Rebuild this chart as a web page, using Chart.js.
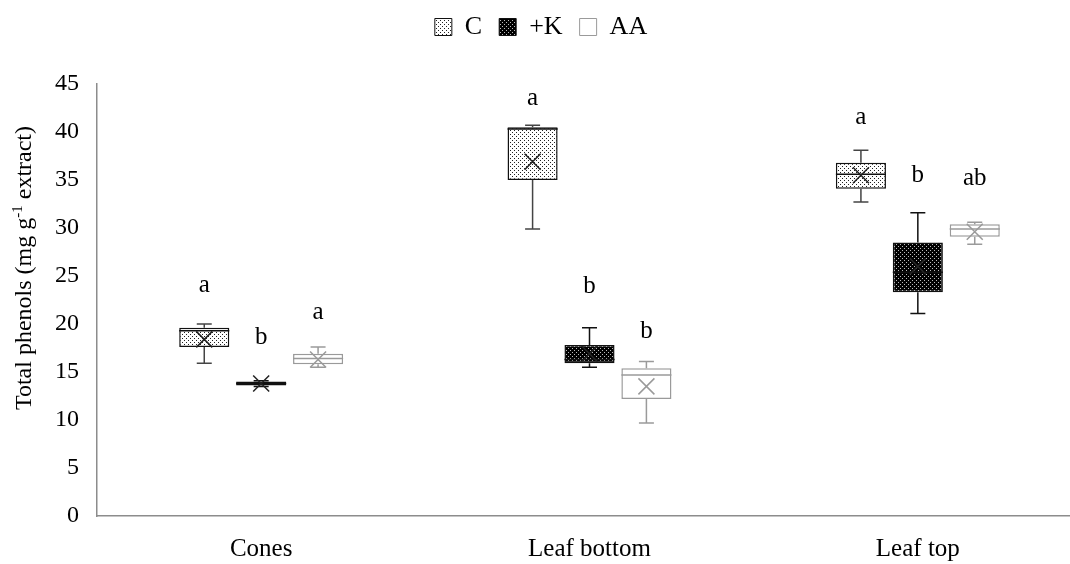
<!DOCTYPE html>
<html>
<head>
<meta charset="utf-8">
<script src="https://cdn.jsdelivr.net/npm/chart.js@4"></script>
<style>
  html, body { margin: 0; padding: 0; background: #fff; overflow: hidden; }
  #wrap { width: 1082px; height: 564px; }
</style>
</head>
<body>
<div id="wrap"><canvas id="chart"></canvas></div>
<script>
// categories and series
const categories = ["Cones", "Leaf bottom", "Leaf top"];
const seriesNames = ["C", "+K", "AA"];

// C (control)
const cMin  = [15.9, 29.9, 32.7];
const cQ1   = [17.6, 35.0, 34.1];
const cMed  = [19.3, 40.3, 35.6];
const cQ3   = [19.6, 40.5, 36.8];
const cMax  = [20.0, 40.7, 38.1];
const cMean = [18.4, 36.9, 35.5];

// +K
const kMin  = [13.5, 15.5, 21.1];
const kQ1   = [13.6, 15.9, 23.3];
const kMed  = [13.8, 16.3, 25.4];
const kQ3   = [14.0, 17.8, 28.5];
const kMax  = [14.1, 19.6, 31.6];
const kMean = [13.8, 16.9, 26.0];

// AA
const aMin  = [15.5, 9.7, 28.3];
const aQ1   = [15.8, 12.2, 29.1];
const aMed  = [16.4, 14.7, 29.9];
const aQ3   = [16.9, 15.4, 30.4];
const aMax  = [17.6, 16.1, 30.6];
const aMean = [16.3, 13.5, 29.6];

// significance letters and the value they sit at
const cLetters = ["a", "a", "a"];
const kLetters = ["b", "b", "b"];
const aLetters = ["a", "b", "ab"];
const cLetterY = [24.0, 43.5, 41.5];
const kLetterY = [18.6, 23.9, 35.5];
const aLetterY = [21.2, 19.2, 35.2];

const yTicks = [0, 5, 10, 15, 20, 25, 30, 35, 40, 45];

const FONT = "'Liberation Serif', 'Times New Roman', serif";

function makePattern(bg, dot) {
    const c = document.createElement("canvas");
    c.width = 4; c.height = 4;
    const g = c.getContext("2d");
    g.fillStyle = bg;
    g.fillRect(0, 0, 4, 4);
    g.fillStyle = dot;
    g.fillRect(0, 0, 1, 1);
    g.fillRect(2, 2, 1, 1);
    return g.createPattern(c, "repeat");
}

const ctx = document.getElementById("chart").getContext("2d");
const fills = [makePattern("#ffffff", "#222222"), makePattern("#000000", "#bbbbbb"), "#ffffff"];
const borders = ["#111111", "#111111", "#9a9a9a"];
const whiskerColors = ["#444444", "#111111", "#9a9a9a"];
const markColors = ["#222222", "#222222", "#9a9a9a"];

const stats = [
    { min: cMin, q1: cQ1, med: cMed, q3: cQ3, max: cMax, mean: cMean, letters: cLetters, letterY: cLetterY },
    { min: kMin, q1: kQ1, med: kMed, q3: kQ3, max: kMax, mean: kMean, letters: kLetters, letterY: kLetterY },
    { min: aMin, q1: aQ1, med: aMed, q3: aQ3, max: aMax, mean: aMean, letters: aLetters, letterY: aLetterY }
];

const boxPlotDecor = {
    id: "boxPlotDecor",
    afterDatasetsDraw(chart) {
        const c = chart.ctx;
        const y = chart.scales.y;
        stats.forEach((s, d) => {
            const meta = chart.getDatasetMeta(d);
            meta.data.forEach((bar, i) => {
                const x = bar.x;
                const half = 7.5;
                c.save();
                c.strokeStyle = whiskerColors[d];
                c.lineWidth = 1.5;
                c.beginPath();
                // upper whisker
                c.moveTo(x, y.getPixelForValue(s.q3[i]));
                c.lineTo(x, y.getPixelForValue(s.max[i]));
                c.moveTo(x - half, y.getPixelForValue(s.max[i]));
                c.lineTo(x + half, y.getPixelForValue(s.max[i]));
                // lower whisker
                c.moveTo(x, y.getPixelForValue(s.q1[i]));
                c.lineTo(x, y.getPixelForValue(s.min[i]));
                c.moveTo(x - half, y.getPixelForValue(s.min[i]));
                c.lineTo(x + half, y.getPixelForValue(s.min[i]));
                c.stroke();
                // median
                c.strokeStyle = borders[d];
                c.beginPath();
                c.moveTo(x - bar.width / 2, y.getPixelForValue(s.med[i]));
                c.lineTo(x + bar.width / 2, y.getPixelForValue(s.med[i]));
                c.stroke();
                // mean marker
                const my = y.getPixelForValue(s.mean[i]);
                c.strokeStyle = markColors[d];
                c.beginPath();
                c.moveTo(x - 8, my - 8); c.lineTo(x + 8, my + 8);
                c.moveTo(x + 8, my - 8); c.lineTo(x - 8, my + 8);
                c.stroke();
                // letter
                c.fillStyle = "#000";
                c.font = "25px " + FONT;
                c.textAlign = "center";
                c.textBaseline = "middle";
                c.fillText(s.letters[i], x, y.getPixelForValue(s.letterY[i]));
                c.restore();
            });
        });
    },
    afterDraw(chart) {
        // y axis title with superscript
        const c = chart.ctx;
        const parts = [["Total phenols (mg g", 24, 0], ["-1", 15, -9], [" extract)", 24, 0]];
        c.save();
        c.translate(23, 268);
        c.rotate(-Math.PI / 2);
        c.fillStyle = "#000";
        c.textBaseline = "alphabetic";
        let total = 0;
        parts.forEach(p => { c.font = p[1] + "px " + FONT; total += c.measureText(p[0]).width; });
        let px = -total / 2;
        parts.forEach(p => {
            c.font = p[1] + "px " + FONT;
            c.fillText(p[0], px, 8 + p[2]);
            px += c.measureText(p[0]).width;
        });
        c.restore();
    }
};

new Chart(ctx, {
    type: "bar",
    data: {
        labels: categories,
        datasets: seriesNames.map((name, d) => ({
            label: name,
            data: categories.map((_, i) => [stats[d].q1[i], stats[d].q3[i]]),
            backgroundColor: fills[d],
            borderColor: borders[d],
            borderWidth: 1.5,
            borderSkipped: false,
            categoryPercentage: 0.52,
            barPercentage: 0.88
        }))
    },
    options: {
        responsive: true,
        maintainAspectRatio: false,
        animation: false,
        layout: { padding: { top: -3, right: 0, left: 0, bottom: 0 } },
        plugins: {
            tooltip: { enabled: false },
            // empty spacer between legend and plot
            title: { display: true, text: "", weight: 500, font: { size: 10 }, padding: { top: 0, bottom: 22 } },
            legend: {
                position: "top",
                labels: {
                    color: "#000",
                    font: { family: FONT, size: 26 },
                    boxWidth: 17,
                    boxHeight: 17,
                    padding: 17,
                    generateLabels: (chart) => seriesNames.map((name, d) => ({
                        text: name,
                        fillStyle: fills[d],
                        strokeStyle: borders[d],
                        lineWidth: 1,
                        datasetIndex: d
                    }))
                }
            }
        },
        scales: {
            x: {
                afterFit: (scale) => { scale.height = 48; },
                grid: { display: false, drawTicks: false },
                border: { color: "#8c8c8c", width: 1.5 },
                ticks: { color: "#000", font: { family: FONT, size: 25 }, padding: 18 }
            },
            y: {
                min: 0,
                max: 45,
                afterBuildTicks: (scale) => { scale.ticks = yTicks.map(v => ({ value: v })); },
                afterFit: (scale) => { scale.width = 97; scale.paddingTop = 84; },
                grid: { display: false, drawTicks: false },
                border: { color: "#8c8c8c", width: 1.5 },
                ticks: { color: "#000", font: { family: FONT, size: 24 }, padding: 18 }
            }
        }
    },
    plugins: [boxPlotDecor]
});
</script>
</body>
</html>
